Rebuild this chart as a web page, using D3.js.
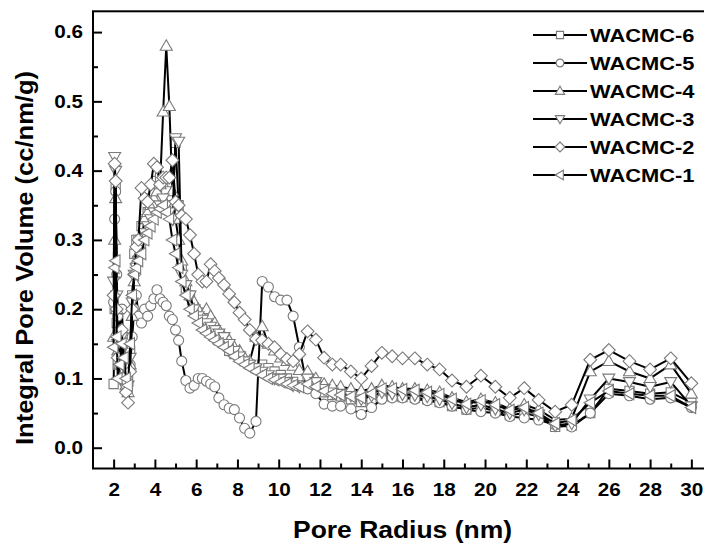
<!DOCTYPE html>
<html>
<head>
<meta charset="utf-8">
<script src="https://cdn.jsdelivr.net/npm/d3@7"></script>
<style>
	body { margin: 0; background: #fff; }
	svg { display: block; }
	text { font-family: Arial, "Liberation Sans", sans-serif; font-weight: bold; fill: #000; }
</style>
</head>
<body>
<svg id="chart" width="704" height="544"></svg>
<script>
// pore radius (nm), shared by all samples
const poreRadius = [2.0, 2.05, 2.1, 2.15, 2.2, 2.3, 2.4, 2.5, 2.6, 2.7, 2.8, 2.9, 3.0, 3.1, 3.2, 3.35, 3.5, 3.65, 3.8, 3.95,
	4.1, 4.25, 4.4, 4.55, 4.7, 4.85, 5.0, 5.15, 5.3, 5.5, 5.7, 5.9, 6.1, 6.3, 6.5, 6.7, 6.9, 7.1, 7.35, 7.6,
	7.85, 8.1, 8.35, 8.6, 8.9, 9.2, 9.5, 9.8, 10.1, 10.4, 10.7, 11.0, 11.4, 11.8, 12.2, 12.6, 13.0, 13.5, 14.0, 14.5,
	15.0, 15.5, 16.0, 16.6, 17.2, 17.8, 18.4, 19.1, 19.8, 20.5, 21.2, 21.9, 22.6, 23.4, 24.2, 25.1, 26.0, 27.0, 28.0, 29.0, 30.0];

const wacmc6Values = [0.092, 0.2, 0.38, 0.18, 0.12, 0.2, 0.14, 0.1, 0.09, 0.1, 0.14, 0.22, 0.28, 0.3, 0.3, 0.32, 0.33, 0.34, 0.36, 0.37,
	0.385, 0.39, 0.38, 0.37, 0.36, 0.35, 0.44, 0.35, 0.26, 0.23, 0.22, 0.2, 0.195, 0.185, 0.18, 0.17, 0.16, 0.155, 0.15, 0.14,
	0.135, 0.13, 0.125, 0.12, 0.115, 0.12, 0.115, 0.11, 0.105, 0.1, 0.095, 0.09, 0.095, 0.088, 0.08, 0.076, 0.074, 0.07, 0.066, 0.07,
	0.075, 0.074, 0.073, 0.072, 0.07, 0.066, 0.06, 0.055, 0.058, 0.053, 0.047, 0.05, 0.045, 0.03, 0.032, 0.05, 0.085, 0.082, 0.078, 0.08, 0.065];

const wacmc5Values = [0.21, 0.33, 0.37, 0.25, 0.19, 0.17, 0.2, 0.13, 0.1, 0.09, 0.12, 0.16, 0.2, 0.22, 0.19, 0.18, 0.2, 0.19, 0.205, 0.215,
	0.228, 0.215, 0.21, 0.205, 0.19, 0.185, 0.17, 0.155, 0.125, 0.097, 0.086, 0.09, 0.1, 0.1, 0.096, 0.092, 0.088, 0.072, 0.062, 0.057,
	0.055, 0.043, 0.028, 0.021, 0.038, 0.24, 0.232, 0.218, 0.213, 0.213, 0.19, 0.145, 0.085, 0.078, 0.063, 0.06, 0.06, 0.056, 0.048, 0.058,
	0.07, 0.072, 0.072, 0.07, 0.068, 0.065, 0.06, 0.055, 0.052, 0.05, 0.045, 0.043, 0.04, 0.033, 0.03, 0.05, 0.078, 0.075, 0.07, 0.072, 0.058];

const wacmc4Values = [0.16, 0.3, 0.36, 0.2, 0.14, 0.12, 0.15, 0.12, 0.09, 0.08, 0.12, 0.19, 0.24, 0.27, 0.28, 0.3, 0.33, 0.34, 0.35, 0.36,
	0.37, 0.38, 0.485, 0.58, 0.493, 0.37, 0.33, 0.3, 0.27, 0.24, 0.22, 0.21, 0.2, 0.19, 0.2, 0.19, 0.18, 0.17, 0.16, 0.155,
	0.145, 0.14, 0.13, 0.125, 0.16, 0.175, 0.15, 0.14, 0.13, 0.125, 0.118, 0.112, 0.11, 0.1, 0.092, 0.09, 0.088, 0.085, 0.082, 0.085,
	0.09, 0.088, 0.085, 0.085, 0.083, 0.08, 0.072, 0.066, 0.07, 0.065, 0.056, 0.062, 0.055, 0.04, 0.042, 0.11, 0.125, 0.11, 0.1, 0.12, 0.078];

const wacmc3Values = [0.24, 0.42, 0.4, 0.22, 0.15, 0.13, 0.16, 0.11, 0.085, 0.09, 0.13, 0.21, 0.25, 0.26, 0.27, 0.29, 0.31, 0.32, 0.33, 0.34,
	0.35, 0.35, 0.36, 0.35, 0.34, 0.33, 0.447, 0.442, 0.25, 0.235, 0.22, 0.2, 0.19, 0.185, 0.18, 0.175, 0.17, 0.165, 0.16, 0.15,
	0.14, 0.132, 0.125, 0.12, 0.115, 0.11, 0.105, 0.1, 0.1, 0.095, 0.09, 0.088, 0.1, 0.095, 0.085, 0.08, 0.078, 0.075, 0.07, 0.075,
	0.08, 0.078, 0.077, 0.076, 0.074, 0.07, 0.064, 0.058, 0.062, 0.056, 0.05, 0.055, 0.048, 0.032, 0.035, 0.07, 0.1, 0.095, 0.088, 0.095, 0.06];

const wacmc2Values = [0.22, 0.41, 0.385, 0.2, 0.13, 0.12, 0.17, 0.1, 0.08, 0.065, 0.11, 0.2, 0.25, 0.29, 0.3, 0.375, 0.36, 0.355, 0.38, 0.41,
	0.405, 0.38, 0.39, 0.39, 0.39, 0.415, 0.355, 0.35, 0.335, 0.33, 0.307, 0.28, 0.25, 0.24, 0.24, 0.265, 0.255, 0.245, 0.235, 0.222,
	0.21, 0.195, 0.185, 0.17, 0.157, 0.155, 0.15, 0.145, 0.135, 0.128, 0.125, 0.135, 0.168, 0.156, 0.13, 0.12, 0.12, 0.11, 0.1, 0.118,
	0.137, 0.132, 0.129, 0.129, 0.12, 0.113, 0.097, 0.088, 0.104, 0.088, 0.072, 0.086, 0.069, 0.052, 0.062, 0.127, 0.141, 0.125, 0.113, 0.129, 0.093];

const wacmc1Values = [0.145, 0.26, 0.27, 0.16, 0.1, 0.12, 0.15, 0.13, 0.1, 0.09, 0.15, 0.22, 0.25, 0.26, 0.27, 0.28, 0.3, 0.31, 0.32, 0.33,
	0.34, 0.345, 0.35, 0.34, 0.33, 0.3, 0.28, 0.26, 0.24, 0.22, 0.2, 0.19, 0.18, 0.17, 0.165, 0.16, 0.155, 0.15, 0.145, 0.14,
	0.132, 0.125, 0.12, 0.115, 0.11, 0.105, 0.1, 0.098, 0.095, 0.092, 0.09, 0.088, 0.092, 0.088, 0.082, 0.078, 0.076, 0.074, 0.072, 0.078,
	0.085, 0.085, 0.084, 0.083, 0.08, 0.077, 0.07, 0.063, 0.068, 0.062, 0.054, 0.058, 0.05, 0.035, 0.04, 0.065, 0.082, 0.078, 0.075, 0.075, 0.058];

const seriesNames = ['WACMC-6', 'WACMC-5', 'WACMC-4', 'WACMC-3', 'WACMC-2', 'WACMC-1'];
const seriesValues = [wacmc6Values, wacmc5Values, wacmc4Values, wacmc3Values, wacmc2Values, wacmc1Values];
const seriesMarkers = ['square', 'circle', 'triangleUp', 'triangleDown', 'diamond', 'triangleLeft'];

const xTickValues = [2, 4, 6, 8, 10, 12, 14, 16, 18, 20, 22, 24, 26, 28, 30];
const xMinorTickValues = [3, 5, 7, 9, 11, 13, 15, 17, 19, 21, 23, 25, 27, 29];
const yTickValues = [0.0, 0.1, 0.2, 0.3, 0.4, 0.5, 0.6];
const yMinorTickValues = [0.05, 0.15, 0.25, 0.35, 0.45, 0.55];

const PoreVolumeChart = {
	plotLeft: 93, plotRight: 712, plotTop: 11.3, plotBottom: 468.5,
	textStretch: 1.15,
	xScale: null,
	yScale: null,

	draw: function() {
		const self = PoreVolumeChart;
		let svg = d3.select('#chart');

		self.xScale = d3.scaleLinear()
			.domain([ 1, 31 ])
			.range([ self.plotLeft, self.plotRight ]);
		self.yScale = d3.scaleLinear()
			.domain([ -0.03, 0.63 ])
			.range([ self.plotBottom, self.plotTop ]);

		self.drawAxes(svg);
		for (let i = 0; i < seriesNames.length; i++)
			self.drawSeries(svg, seriesValues[i], seriesMarkers[i]);
		self.drawLegend(svg);
		self.drawFrame(svg);
	},
	drawAxes: function(svg) {
		const self = PoreVolumeChart;
		let xAxis = svg.append('g')
			.attr('transform', 'translate(0,' + self.plotBottom + ')')
			.call(d3.axisBottom(self.xScale).tickValues(xTickValues).tickSize(-9).tickPadding(14.5).tickFormat(d3.format('d')));
		let xMinorAxis = svg.append('g')
			.attr('transform', 'translate(0,' + self.plotBottom + ')')
			.call(d3.axisBottom(self.xScale).tickValues(xMinorTickValues).tickSize(-5).tickFormat(''));
		let yAxis = svg.append('g')
			.attr('transform', 'translate(' + self.plotLeft + ',0)')
			.call(d3.axisLeft(self.yScale).tickValues(yTickValues).tickSize(-9).tickPadding(10).tickFormat(d3.format('.1f')));
		let yMinorAxis = svg.append('g')
			.attr('transform', 'translate(' + self.plotLeft + ',0)')
			.call(d3.axisLeft(self.yScale).tickValues(yMinorTickValues).tickSize(-5).tickFormat(''));

		[ xAxis, xMinorAxis, yAxis, yMinorAxis ].forEach(function(axis) {
			axis.select('.domain').remove();
			axis.selectAll('line').attr('stroke', '#000').attr('stroke-width', 2);
			axis.selectAll('text')
				.style('font-family', 'Arial, "Liberation Sans", sans-serif')
				.style('font-weight', 'bold')
				.style('font-size', '18px')
				.attr('fill', '#000');
		});
		self.stretchText(xAxis.selectAll('text'), self.textStretch);
		self.stretchText(yAxis.selectAll('text'), self.textStretch);

		// axis titles
		let xTitle = svg.append('text')
			.attr('x', (self.plotLeft + self.plotRight) / 2)
			.attr('y', 538.3)
			.attr('text-anchor', 'middle')
			.style('font-size', '23px')
			.text('Pore Radius (nm)');
		let yTitle = svg.append('text')
			.attr('transform', 'translate(33.3,258) rotate(-90)')
			.attr('text-anchor', 'middle')
			.style('font-size', '23px')
			.text('Integral Pore Volume (cc/nm/g)');
		self.stretchText(xTitle, self.textStretch);
		self.stretchText(yTitle, 1.11);
	},
	drawSeries: function(svg, values, markerShape) {
		const self = PoreVolumeChart;
		let points = poreRadius.map(function(radius, i) { return [ radius, values[i] ]; });
		let line = d3.line()
			.x(function(d) { return self.xScale(d[0]); })
			.y(function(d) { return self.yScale(d[1]); });
		let seriesGroup = svg.append('g');

		seriesGroup.append('path')
			.datum(points)
			.attr('d', line)
			.style('fill', 'none')
			.style('stroke', '#000')
			.style('stroke-width', 2)
			.style('stroke-linejoin', 'round');
		seriesGroup.selectAll('path.marker')
			.data(points)
			.enter()
			.append('path')
			.attr('class', 'marker')
			.attr('transform', function(d) { return 'translate(' + self.xScale(d[0]) + ',' + self.yScale(d[1]) + ')'; })
			.attr('d', self.markerPath(markerShape, 1))
			.style('fill', '#fff')
			.style('stroke', '#7a7a7a')
			.style('stroke-width', 1.1);
	},
	drawLegend: function(svg) {
		const self = PoreVolumeChart;
		let legendGroup = svg.append('g');

		for (let i = 0; i < seriesNames.length; i++) {
			let rowY = 35 + i * 28;
			legendGroup.append('line')
				.attr('x1', 533).attr('x2', 587)
				.attr('y1', rowY).attr('y2', rowY)
				.style('stroke', '#000')
				.style('stroke-width', 2);
			legendGroup.append('path')
				.attr('transform', 'translate(560,' + rowY + ')')
				.attr('d', self.markerPath(seriesMarkers[i], 0.78))
				.style('fill', '#fff')
				.style('stroke', '#7a7a7a')
				.style('stroke-width', 1.1);
			let label = legendGroup.append('text')
				.attr('x', 590)
				.attr('y', rowY + 6.7)
				.style('font-size', '19px')
				.text(seriesNames[i]);
			self.stretchText(label, self.textStretch);
		}
	},
	drawFrame: function(svg) {
		const self = PoreVolumeChart;
		svg.append('rect')
			.attr('x', self.plotLeft)
			.attr('y', self.plotTop)
			.attr('width', self.plotRight - self.plotLeft)
			.attr('height', self.plotBottom - self.plotTop)
			.style('fill', 'none')
			.style('stroke', '#000')
			.style('stroke-width', 2);
	},

	// helpers

	markerPath: function(shape, scale) {
		let s = scale;
		if (shape == 'square')
			return 'M' + (-4.6 * s) + ',' + (-4.6 * s) + 'h' + (9.2 * s) + 'v' + (9.2 * s) + 'h' + (-9.2 * s) + 'Z';
		if (shape == 'circle')
			return 'M' + (-5 * s) + ',0a' + (5 * s) + ',' + (5 * s) + ' 0 1,0 ' + (10 * s) + ',0a' + (5 * s) + ',' + (5 * s) + ' 0 1,0 ' + (-10 * s) + ',0Z';
		if (shape == 'triangleUp')
			return 'M0,' + (-6.2 * s) + 'L' + (6 * s) + ',' + (4.3 * s) + 'L' + (-6 * s) + ',' + (4.3 * s) + 'Z';
		if (shape == 'triangleDown')
			return 'M0,' + (6.2 * s) + 'L' + (6 * s) + ',' + (-4.3 * s) + 'L' + (-6 * s) + ',' + (-4.3 * s) + 'Z';
		if (shape == 'diamond')
			return 'M0,' + (-6.4 * s) + 'L' + (6.4 * s) + ',0L0,' + (6.4 * s) + 'L' + (-6.4 * s) + ',0Z';
		if (shape == 'triangleLeft')
			return 'M' + (-6.2 * s) + ',0L' + (4.3 * s) + ',' + (-6 * s) + 'L' + (4.3 * s) + ',' + (6 * s) + 'Z';
	},
	stretchText: function(selection, stretchFactor) {
		// the reference font is a little wider than Arial
		selection.each(function() {
			let textLength = this.getComputedTextLength();
			d3.select(this)
				.attr('textLength', textLength * stretchFactor)
				.attr('lengthAdjust', 'spacingAndGlyphs');
		});
	}
}

PoreVolumeChart.draw();
</script>
</body>
</html>
